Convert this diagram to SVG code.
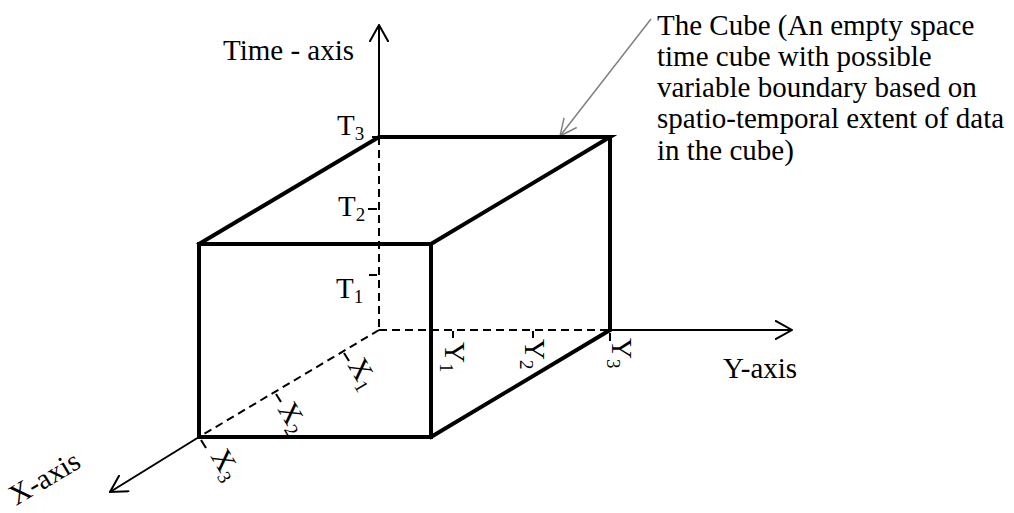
<svg xmlns="http://www.w3.org/2000/svg" width="1014" height="513" viewBox="0 0 1014 513">
  <style>
    .t { font-family: "Liberation Serif", "Times New Roman", serif; font-size: 29px; fill: #000; }
    .s { font-size: 19px; }
    .edge { fill: none; stroke: #000; stroke-width: 4; stroke-linejoin: miter; stroke-linecap: square; }
    .axis { fill: none; stroke: #000; stroke-width: 2; }
    .dash { fill: none; stroke: #000; stroke-width: 2; stroke-dasharray: 8 5; }
    .tick { fill: none; stroke: #000; stroke-width: 2; }
    .leader { fill: none; stroke: #808080; stroke-width: 1.5; }
  </style>
  <defs>
    <marker id="arr" viewBox="0 0 18 20" refX="17" refY="10" markerWidth="18" markerHeight="20" markerUnits="userSpaceOnUse" orient="auto">
      <path d="M0,0.5 L17,10 L0,19.5" fill="none" stroke="#000" stroke-width="2"/>
    </marker>
    <marker id="arrg" viewBox="0 0 18 18" refX="17" refY="9" markerWidth="18" markerHeight="18" markerUnits="userSpaceOnUse" orient="auto">
      <path d="M0,1 L17,9 L0,17" fill="none" stroke="#808080" stroke-width="1.5"/>
    </marker>
  </defs>
  <rect width="1014" height="513" fill="#fff"/>

  <g id="connectors">
    <line class="axis" x1="379" y1="137" x2="379" y2="25" marker-end="url(#arr)"/>
    <line class="dash" x1="379" y1="137" x2="379" y2="330"/>
    <line class="dash" x1="379" y1="330" x2="610" y2="330"/>
    <line class="axis" x1="610" y1="330" x2="792" y2="330" marker-end="url(#arr)"/>
    <line class="dash" x1="379" y1="330" x2="199" y2="437"/>
    <line class="axis" x1="199" y1="437" x2="110" y2="492" marker-end="url(#arr)"/>
    <line class="leader" x1="651" y1="19" x2="560" y2="136" marker-end="url(#arrg)"/>
  </g>

  <g id="cube">
    <polygon class="edge" points="199,244 431,244 431,437 199,437"/>
    <polyline class="edge" points="199,244 379,137 610,137 431,244"/>
    <polyline class="edge" points="610,137 610,330 431,437"/>
  </g>

  <g id="ticks">
    <line class="tick" x1="372" y1="137" x2="379" y2="137"/>
    <line class="tick" x1="368" y1="209" x2="377" y2="209"/>
    <line class="tick" x1="369" y1="275" x2="377" y2="275"/>
    <line class="tick" x1="453" y1="331" x2="453" y2="338"/>
    <line class="tick" x1="533" y1="331" x2="533" y2="338"/>
    <line class="tick" x1="610" y1="333" x2="610" y2="341"/>
    <line class="tick" x1="344" y1="353" x2="349" y2="361"/>
    <line class="tick" x1="276" y1="394" x2="281" y2="402"/>
    <line class="tick" x1="201" y1="440" x2="206" y2="448"/>
  </g>

  <g id="time-labels">
    <text class="t" x="223" y="60">Time - axis</text>
    <text class="t" x="337" y="135">T<tspan class="s" dy="5">3</tspan></text>
    <text class="t" x="338" y="216">T<tspan class="s" dy="5">2</tspan></text>
    <text class="t" x="336" y="298">T<tspan class="s" dy="5">1</tspan></text>
  </g>

  <g id="y-labels">
    <text class="t" x="723" y="378">Y-axis</text>
    <text class="t" transform="translate(445,342) rotate(90)">Y<tspan class="s" dy="5">1</tspan></text>
    <text class="t" transform="translate(525,339) rotate(90)">Y<tspan class="s" dy="5">2</tspan></text>
    <text class="t" transform="translate(612,338) rotate(90)">Y<tspan class="s" dy="5">3</tspan></text>
  </g>

  <g id="x-labels">
    <text class="t" transform="translate(16,506) rotate(-30.7)">X-axis</text>
    <text class="t" transform="translate(347,365) rotate(59.3)">X<tspan class="s" dy="5">1</tspan></text>
    <text class="t" transform="translate(277,409) rotate(59.3)">X<tspan class="s" dy="5">2</tspan></text>
    <text class="t" transform="translate(210,456) rotate(59.3)">X<tspan class="s" dy="5">3</tspan></text>
  </g>

  <g id="cube-note">
    <text class="t" x="657" y="35">The Cube (An empty space</text>
    <text class="t" x="657" y="66">time cube with possible</text>
    <text class="t" x="657" y="97">variable boundary based on</text>
    <text class="t" x="657" y="128">spatio-temporal extent of data</text>
    <text class="t" x="657" y="160">in the cube)</text>
  </g>
</svg>
